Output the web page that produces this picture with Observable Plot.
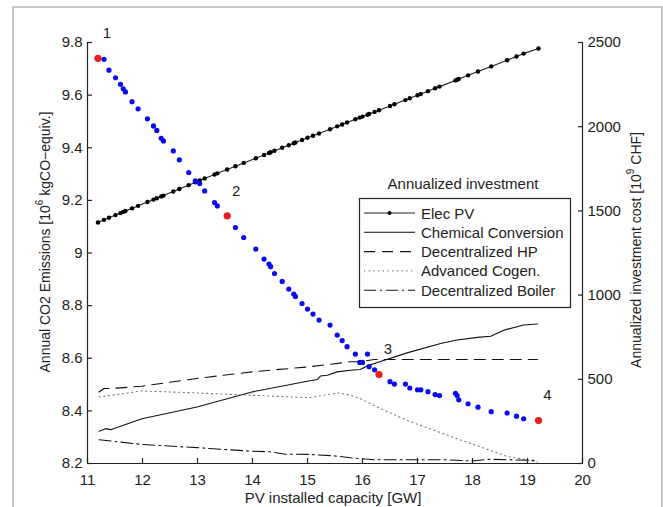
<!DOCTYPE html>
<html>
<head>
<meta charset="utf-8">
<script src="https://cdn.jsdelivr.net/npm/d3@7"></script>
<script src="https://cdn.jsdelivr.net/npm/@observablehq/plot@0.6"></script>
<style>
  html, body { margin: 0; padding: 0; background: #fff; }
  #chart svg { display: block; }
</style>
</head>
<body>
<div id="chart"></div>
<script>
// ---- data ----
const pvCapacity = [11.19, 11.30, 11.39, 11.51, 11.60, 11.65, 11.69, 11.81, 11.92, 12.09, 12.20, 12.26, 12.34, 12.38, 12.56, 12.67, 12.84, 12.96, 13.04, 13.13, 13.31, 13.36, 13.54, 13.69, 13.84, 14.06, 14.21, 14.30, 14.33, 14.40, 14.54, 14.66, 14.75, 14.78, 14.90, 15.00, 15.10, 15.21, 15.41, 15.54, 15.63, 15.72, 15.87, 15.95, 16.00, 16.09, 16.12, 16.22, 16.30, 16.50, 16.58, 16.78, 16.86, 17.00, 17.06, 17.19, 17.32, 17.40, 17.69, 17.72, 17.75, 17.92, 18.10, 18.34, 18.63, 18.80, 18.93, 19.20];
const co2Emissions = [9.740, 9.736, 9.695, 9.666, 9.641, 9.624, 9.612, 9.575, 9.548, 9.510, 9.483, 9.466, 9.436, 9.426, 9.388, 9.354, 9.306, 9.274, 9.264, 9.236, 9.192, 9.179, 9.141, 9.097, 9.059, 9.015, 8.977, 8.958, 8.948, 8.922, 8.892, 8.863, 8.844, 8.835, 8.808, 8.787, 8.768, 8.745, 8.726, 8.688, 8.667, 8.644, 8.616, 8.584, 8.584, 8.616, 8.568, 8.556, 8.538, 8.511, 8.502, 8.502, 8.487, 8.480, 8.480, 8.473, 8.462, 8.458, 8.467, 8.458, 8.442, 8.427, 8.414, 8.397, 8.392, 8.380, 8.370, 8.363];
const elecPV = [1431, 1447, 1459, 1475, 1487, 1494, 1499, 1515, 1530, 1553, 1567, 1575, 1586, 1591, 1615, 1630, 1653, 1670, 1681, 1693, 1716, 1723, 1746, 1765, 1785, 1813, 1832, 1844, 1848, 1857, 1875, 1890, 1902, 1906, 1921, 1934, 1946, 1960, 1985, 2002, 2013, 2025, 2044, 2054, 2060, 2071, 2075, 2088, 2098, 2123, 2133, 2158, 2169, 2187, 2194, 2211, 2228, 2238, 2275, 2279, 2283, 2305, 2328, 2358, 2395, 2417, 2434, 2464];
const selectedIndex = [0, 22, 48, 67];
const selectedLabels = ["1", "2", "3", "4"];

const chemX = [11.21, 11.33, 11.42, 11.99, 12.99, 13.99, 15.02, 15.18, 15.24, 15.36, 15.54, 15.78, 15.96, 16.09, 16.81, 17.42, 17.72, 18.09, 18.33, 18.57, 18.93, 19.18];
const chemY = [192, 207, 201, 266, 335, 425, 490, 499, 520, 524, 544, 554, 558, 580, 657, 713, 733, 749, 756, 792, 822, 828];
const hpX = [11.21, 11.30, 11.42, 11.99, 12.99, 13.99, 15.02, 15.78, 15.96, 16.21, 19.18];
const hpY = [425, 445, 445, 459, 505, 544, 574, 604, 604, 618, 618];
const cogenX = [11.21, 11.99, 12.99, 13.99, 15.02, 15.36, 15.57, 15.78, 15.96, 16.27, 16.81, 17.72, 18.33, 18.63, 18.99, 19.18];
const cogenY = [395, 431, 419, 405, 391, 409, 419, 405, 385, 335, 256, 147, 77, 42, 22, 8];
const boilerX = [11.21, 11.99, 12.99, 13.99, 14.30, 14.60, 15.02, 15.50, 15.78, 16.21, 17.50, 18.00, 18.30, 19.18];
const boilerY = [141, 113, 94, 73, 70, 55, 54, 45, 34, 22, 22, 15, 25, 18];

const xTicks = [11, 12, 13, 14, 15, 16, 17, 18, 19, 20];
const leftTicks = [8.2, 8.4, 8.6, 8.8, 9, 9.2, 9.4, 9.6, 9.8];
const rightTicks = [0, 500, 1000, 1500, 2000, 2500];
const legendNames = ["Elec PV", "Chemical Conversion", "Decentralized HP", "Advanced Cogen.", "Decentralized Boiler"];

// ---- scales mapping: right axis (investment) onto left y domain ----
const yDom = [8.2, 9.8], rDom = [0, 2500];
const toLeft = v => yDom[0] + (v - rDom[0]) * (yDom[1] - yDom[0]) / (rDom[1] - rDom[0]);
const fromLeft = y => rDom[0] + (y - yDom[0]) * (rDom[1] - rDom[0]) / (yDom[1] - yDom[0]);

const pts = pvCapacity.map((x, i) => ({x, co2: co2Emissions[i], inv: elecPV[i]}));
const sel = selectedIndex.map((i, k) => ({...pts[i], label: selectedLabels[k]}));
const mk = (xs, ys) => xs.map((x, i) => ({x, y: toLeft(ys[i])}));
const chem = mk(chemX, chemY), hp = mk(hpX, hpY), cogen = mk(cogenX, cogenY), boiler = mk(boilerX, boilerY);
const elec = pts.map(d => ({x: d.x, y: toLeft(d.inv)}));
const rightPos = rightTicks.map(toLeft);

const FONT = "'Liberation Sans', Arial, Helvetica, sans-serif";
const W = 663, H = 507;
const blank = () => "";

const plot = Plot.plot({
  width: W, height: H,
  marginLeft: 87, marginRight: 81, marginTop: 42, marginBottom: 44,
  style: {fontFamily: FONT, fontSize: "15px", color: "#222", background: "transparent", overflow: "visible"},
  x: {domain: [11, 20]},
  y: {domain: yDom},
  marks: [
    Plot.line(chem, {x: "x", y: "y", stroke: "#111", strokeWidth: 1.1}),
    Plot.line(hp, {x: "x", y: "y", stroke: "#111", strokeWidth: 1.1, strokeDasharray: "11,7"}),
    Plot.line(cogen, {x: "x", y: "y", stroke: "#777", strokeWidth: 1.1, strokeDasharray: "1.2,3.5"}),
    Plot.line(boiler, {x: "x", y: "y", stroke: "#111", strokeWidth: 1.1, strokeDasharray: "12,4,2,4"}),
    Plot.line(elec, {x: "x", y: "y", stroke: "#222", strokeWidth: 1.1}),
    Plot.dot(elec, {x: "x", y: "y", r: 2.2, fill: "#000", stroke: "none"}),
    Plot.dot(pts.filter((d, i) => !selectedIndex.includes(i)), {x: "x", y: "co2", r: 2.6, fill: "#0a0aee", stroke: "none"}),
    Plot.dot(sel, {x: "x", y: "co2", r: 3.6, fill: "#ee1c1c", stroke: "none"}),
    Plot.text(sel, {x: "x", y: "co2", text: "label", dx: 9, dy: -25, fill: "#222", fontSize: 15}),
    Plot.ruleX([11], {stroke: "#222", strokeWidth: 1.2}),
    Plot.ruleX([20], {stroke: "#222", strokeWidth: 1.2}),
    Plot.ruleY([8.2], {stroke: "#222", strokeWidth: 1.2}),
    // inward tick marks
    Plot.axisX({ticks: xTicks, tickSize: 5, dy: -5, strokeWidth: 1.2, stroke: "#222", label: null, tickFormat: blank}),
    Plot.axisY({ticks: leftTicks, anchor: "left", tickSize: 5, dx: 5, strokeWidth: 1.2, stroke: "#222", label: null, tickFormat: blank}),
    Plot.axisY(rightPos, {anchor: "right", tickSize: 5, dx: -5, strokeWidth: 1.2, stroke: "#222", label: null, tickFormat: blank}),
    // tick labels
    Plot.axisX({ticks: xTicks, tickSize: 0, tickPadding: 11, label: null, tickFormat: d => String(d)}),
    Plot.axisY({ticks: leftTicks, anchor: "left", tickSize: 0, tickPadding: 5, label: null, tickFormat: d => String(+d.toFixed(1))}),
    Plot.axisY(rightPos, {anchor: "right", tickSize: 0, tickPadding: 5, label: null, tickFormat: d => String(Math.round(fromLeft(d)))})
  ]
});

const svg = d3.select(plot);
svg.selectAll("text").style("font-family", FONT);

// image frame
const frame = svg.insert("g", ":first-child").attr("fill", "none").attr("stroke", "#b5b5b5").attr("stroke-width", 1.5);
frame.append("path").attr("d", `M13,${H}V7H662V${H}`);

// axis titles
function title(x, y, rot, size, parts) {
  const t = svg.append("text").attr("transform", `translate(${x},${y}) rotate(${rot})`)
    .attr("text-anchor", "middle").attr("dominant-baseline", "central")
    .style("font-family", FONT).style("font-size", size + "px").attr("fill", "#222");
  parts.forEach(p => {
    const s = t.append("tspan").text(p.t);
    if (p.sup) s.attr("baseline-shift", "super").style("font-size", "10px");
  });
}
title(333, 497, 0, 15, [{t: "PV installed capacity [GW]"}]);
title(45, 242, -90, 14, [{t: "Annual CO2 Emissions [10"}, {t: "6", sup: true}, {t: " kgCO\u2212equiv.]"}]);
title(636, 250, -90, 14, [{t: "Annualized investment cost [10"}, {t: "9", sup: true}, {t: " CHF]"}]);

// legend
const lg = svg.append("g").style("font-family", FONT).style("font-size", "15px");
lg.append("text").attr("x", 463).attr("y", 183).attr("text-anchor", "middle").attr("dominant-baseline", "central").attr("fill", "#222").text("Annualized investment");
lg.append("rect").attr("x", 359.5).attr("y", 198.5).attr("width", 211).attr("height", 109).attr("fill", "#fff").attr("stroke", "#222").attr("stroke-width", 1.2);
const styles = [
  {stroke: "#222", dash: null, dot: true},
  {stroke: "#111", dash: null},
  {stroke: "#111", dash: "11,7"},
  {stroke: "#777", dash: "1.2,3.5"},
  {stroke: "#111", dash: "12,4,2,4"}
];
legendNames.forEach((name, i) => {
  const y = 213 + i * 19.3;
  const st = styles[i];
  lg.append("line").attr("x1", 364).attr("x2", 415).attr("y1", y).attr("y2", y)
    .attr("stroke", st.stroke).attr("stroke-width", 1.1).attr("stroke-dasharray", st.dash);
  if (st.dot) lg.append("circle").attr("cx", 389.5).attr("cy", y).attr("r", 2).attr("fill", "#000");
  lg.append("text").attr("x", 421).attr("y", y).attr("text-anchor", "start").attr("dominant-baseline", "central").attr("fill", "#222").text(name);
});

document.getElementById("chart").appendChild(plot);
</script>
</body>
</html>
